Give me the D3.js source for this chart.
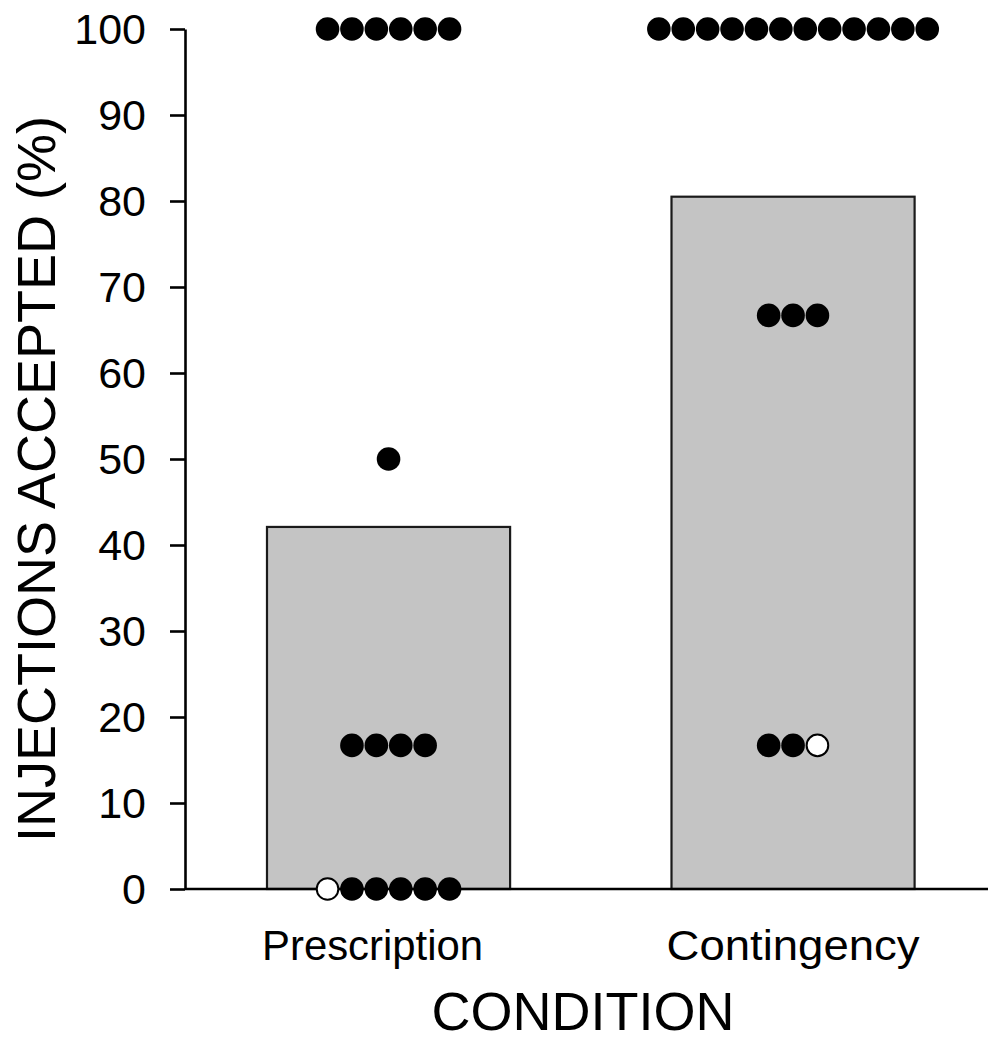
<!DOCTYPE html>
<html>
<head>
<meta charset="utf-8">
<script src="https://cdn.jsdelivr.net/npm/d3@7"></script>
<style>
  body { margin: 0; background: #fff; }
  svg text { font-family: "Liberation Sans", Arial, sans-serif; fill: #000; }
</style>
</head>
<body>
<svg id="chart" width="990" height="1040"></svg>
<script>
// chart data
const conditions = ["Prescription", "Contingency"];
const meanAccepted = [42.1, 80.5];
const yTicks = [0, 10, 20, 30, 40, 50, 60, 70, 80, 90, 100];

// individual subjects: one row per value, fills listed left to right
const prescriptionRows = [
  { value: 100, fills: ["black", "black", "black", "black", "black", "black"] },
  { value: 50, fills: ["black"] },
  { value: 16.7, fills: ["black", "black", "black", "black"] },
  { value: 0, fills: ["white", "black", "black", "black", "black", "black"] }
];
const contingencyRows = [
  { value: 100, fills: ["black", "black", "black", "black", "black", "black", "black", "black", "black", "black", "black", "black"] },
  { value: 66.7, fills: ["black", "black", "black"] },
  { value: 16.7, fills: ["black", "black", "white"] }
];

const svg = d3.select("#chart");
const plotLeft = 185, plotBottom = 889, plotTop = 29;
const dotStep = 24.4, dotR = 11.8;
// label placement as it sits in the figure
const labelShift = [-16, 0];
const labelWidth = [221, 253];

const x = d3.scaleBand()
  .domain(conditions)
  .range([plotLeft, 996.6])
  .paddingInner(0.399)
  .paddingOuter(0.2027);

const y = d3.scaleLinear()
  .domain([0, 100])
  .range([plotBottom, plotTop]);

// bars
svg.append("g")
  .selectAll("rect")
  .data(conditions)
  .enter()
  .append("rect")
  .attr("x", d => x(d))
  .attr("y", (d, i) => y(meanAccepted[i]))
  .attr("width", x.bandwidth())
  .attr("height", (d, i) => y(0) - y(meanAccepted[i]))
  .attr("fill", "#c4c4c4")
  .attr("stroke", "#1a1a1a")
  .attr("stroke-width", 2.2);

// y axis
const yAxis = svg.append("g")
  .attr("transform", `translate(${plotLeft},0)`)
  .call(d3.axisLeft(y).tickValues(yTicks).tickSize(15).tickSizeOuter(0).tickPadding(24));

yAxis.select(".domain").attr("stroke", "#000").attr("stroke-width", 2.6);
yAxis.selectAll(".tick line").attr("stroke", "#000").attr("stroke-width", 2.6);
yAxis.selectAll(".tick text")
  .attr("font-size", 43)
  .attr("dy", "0.33em")
  .style("font-family", "'Liberation Sans', Arial, sans-serif");

// x baseline
svg.append("line")
  .attr("x1", plotLeft)
  .attr("x2", 988)
  .attr("y1", y(0))
  .attr("y2", y(0))
  .attr("stroke", "#000")
  .attr("stroke-width", 2.6);

// subject dots
const points = [];
[prescriptionRows, contingencyRows].forEach((rows, ci) => {
  rows.forEach(row => {
    const n = row.fills.length;
    row.fills.forEach((f, i) => {
      points.push({ cond: conditions[ci], value: row.value, offset: i - (n - 1) / 2, fill: f });
    });
  });
});

svg.append("g")
  .selectAll("circle")
  .data(points)
  .enter()
  .append("circle")
  .attr("cx", d => x(d.cond) + x.bandwidth() / 2 + d.offset * dotStep)
  .attr("cy", d => y(d.value))
  .attr("r", d => d.fill === "white" ? dotR - 1 : dotR)
  .attr("fill", d => d.fill === "white" ? "#fff" : "#000")
  .attr("stroke", "#000")
  .attr("stroke-width", d => d.fill === "white" ? 2 : 0);

// category labels
svg.append("g")
  .selectAll("text")
  .data(conditions)
  .enter()
  .append("text")
  .attr("x", (d, i) => x(d) + x.bandwidth() / 2 + labelShift[i])
  .attr("y", 960)
  .attr("text-anchor", "middle")
  .attr("font-size", 43)
  .attr("textLength", (d, i) => labelWidth[i])
  .attr("lengthAdjust", "spacingAndGlyphs")
  .text(d => d);

// axis titles
svg.append("text")
  .attr("x", 583)
  .attr("y", 1030)
  .attr("text-anchor", "middle")
  .attr("font-size", 54)
  .text("CONDITION");

svg.append("text")
  .attr("transform", "translate(55,479) rotate(-90)")
  .attr("text-anchor", "middle")
  .attr("font-size", 54)
  .text("INJECTIONS ACCEPTED (%)");
</script>
</body>
</html>
